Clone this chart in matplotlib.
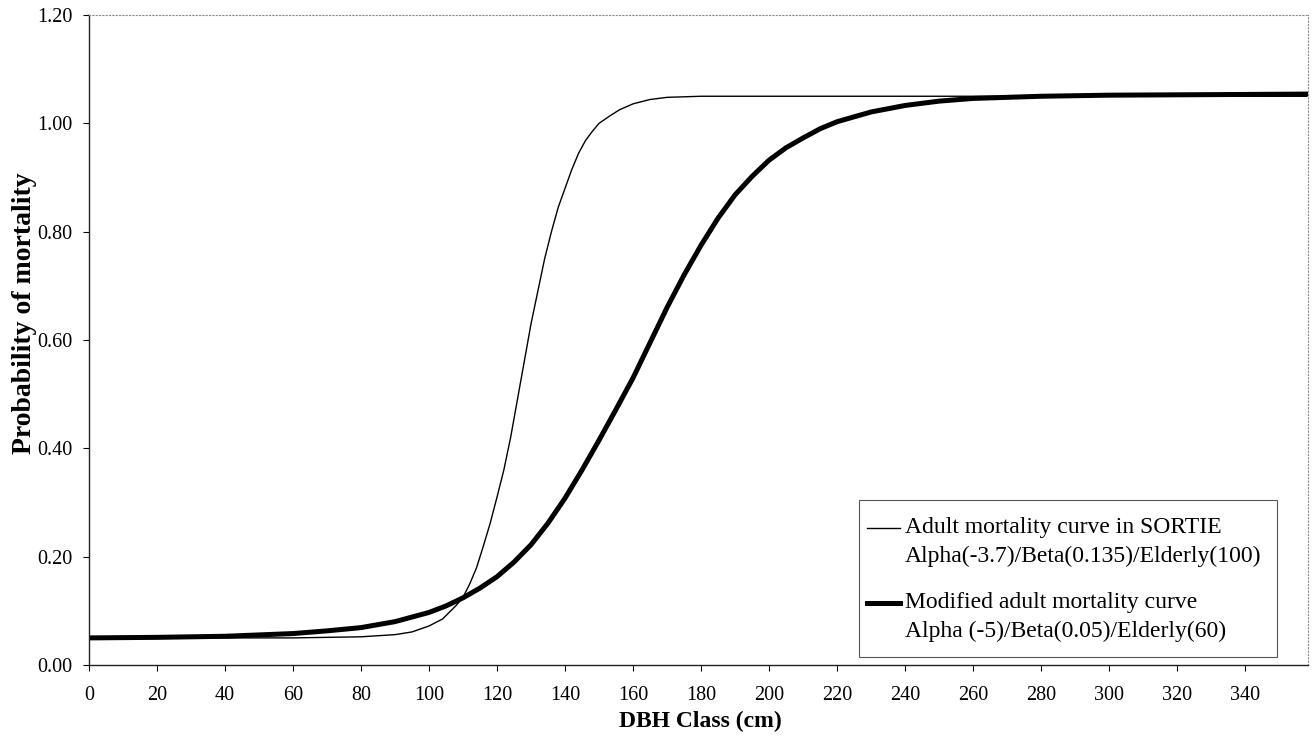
import matplotlib
matplotlib.use("Agg")
import matplotlib.pyplot as plt
from matplotlib.lines import Line2D
from matplotlib.patches import Rectangle

plt.rcParams['font.family'] = ['Liberation Serif', 'DejaVu Serif']

# valeurs (DBH en cm, probabilite)
sortie_dbh = [0, 20, 40, 60, 70, 80, 85, 90, 95, 100, 104, 108, 110, 112, 114, 116, 118,
              120, 122, 124, 126, 128, 130, 132, 134, 136, 138, 140, 142, 144, 146, 148,
              150, 153, 156, 160, 165, 170, 180, 200, 250, 300, 358]
sortie_prob = [0.050, 0.050, 0.050, 0.050, 0.051, 0.052, 0.054, 0.056, 0.061, 0.072,
               0.085, 0.110, 0.125, 0.150, 0.180, 0.220, 0.262, 0.310, 0.360, 0.420,
               0.490, 0.560, 0.630, 0.690, 0.750, 0.800, 0.845, 0.880, 0.915, 0.945,
               0.968, 0.985, 1.000, 1.013, 1.025, 1.036, 1.044, 1.048, 1.050, 1.050,
               1.050, 1.050, 1.050]

modified_dbh = [0, 20, 40, 60, 70, 80, 90, 100, 105, 110, 115, 120, 125, 130, 135, 140,
                145, 150, 155, 160, 165, 170, 175, 180, 185, 190, 195, 200, 205, 210,
                215, 220, 230, 240, 250, 260, 280, 300, 330, 358]
modified_prob = [0.050, 0.051, 0.053, 0.058, 0.063, 0.069, 0.080, 0.097, 0.109, 0.124,
                 0.142, 0.163, 0.190, 0.222, 0.262, 0.308, 0.360, 0.415, 0.472, 0.530,
                 0.595, 0.660, 0.720, 0.775, 0.825, 0.868, 0.902, 0.932, 0.955, 0.973,
                 0.990, 1.003, 1.021, 1.033, 1.041, 1.046, 1.050, 1.052, 1.053, 1.054]

x_ticks = list(range(0, 341, 20))
y_ticks = [0.0, 0.2, 0.4, 0.6, 0.8, 1.0, 1.2]

legend_lines = [
    ("Adult mortality curve in SORTIE", "Alpha(-3.7)/Beta(0.135)/Elderly(100)"),
    ("Modified adult mortality curve", "Alpha (-5)/Beta(0.05)/Elderly(60)"),
]

fig = plt.figure(figsize=(13.12, 7.36), dpi=100)
ax = fig.add_axes([0.0678, 0.0965, 0.9292, 0.8831])

ax.plot(sortie_dbh, sortie_prob, color='black', lw=1.0)
ax.plot(modified_dbh, modified_prob, color='black', lw=3.6)

ax.set_xlim(0, 358.5)
ax.set_ylim(0, 1.2)
ax.set_xticks(x_ticks)
ax.set_yticks(y_ticks)
ax.set_yticklabels([f"{v:.2f}" for v in y_ticks])
ax.tick_params(axis='both', direction='out', length=4, width=0.8, labelsize=14.5, colors='black')
ax.tick_params(axis='x', pad=11)
ax.tick_params(axis='y', pad=8)

for side in ['top', 'right']:
    ax.spines[side].set_linestyle((0, (1, 2)))
    ax.spines[side].set_color('#8a8a8a')
    ax.spines[side].set_linewidth(0.8)
for side in ['left', 'bottom']:
    ax.spines[side].set_color('#222222')
    ax.spines[side].set_linewidth(1.0)

fig.text(0.534, 0.006, "DBH Class (cm)", ha='center', va='bottom', fontsize=17, fontweight='bold')
fig.text(0.019, 0.575, "Probability of mortality", ha='center', va='center', rotation=90,
         fontsize=20, fontweight='bold')

# legende dessinee a la main (poignee alignee sur la premiere ligne)
ax.add_patch(Rectangle((0.6317, 0.0123), 0.3429, 0.2415, transform=ax.transAxes,
                       facecolor='white', edgecolor='#555555', lw=0.8, zorder=5))
line_y = [(0.2108, 0.1666), (0.0954, 0.0512)]
handle_w = [1.0, 3.6]
for (l1, l2), (y1, y2), hw in zip(legend_lines, line_y, handle_w):
    ax.add_line(Line2D([0.638, 0.6653], [y1, y1], transform=ax.transAxes, color='black',
                       lw=hw, zorder=6))
    ax.text(0.6694, y1, l1, transform=ax.transAxes, ha='left', va='center', fontsize=17, zorder=6)
    ax.text(0.6694, y2, l2, transform=ax.transAxes, ha='left', va='center', fontsize=17, zorder=6)

plt.savefig("out.png", dpi=100)
plt.close()
